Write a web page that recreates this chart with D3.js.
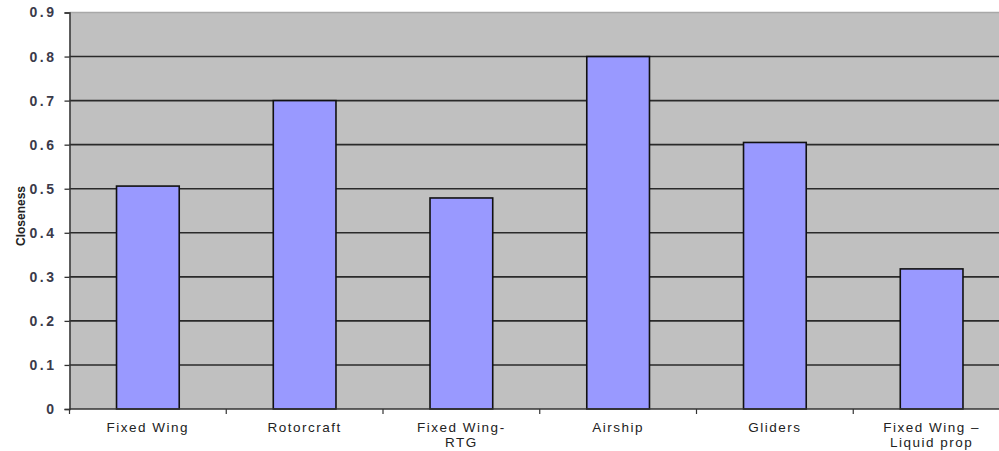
<!DOCTYPE html>
<html><head><meta charset="utf-8">
<script src="https://cdn.jsdelivr.net/npm/d3@7"></script>
<style>body{margin:0;background:#fff;} svg{display:block;}</style>
</head><body>
<svg id="c" width="999" height="451"></svg>
<script>
const categories = [["Fixed Wing"],["Rotorcraft"],["Fixed Wing-","RTG"],["Airship"],["Gliders"],["Fixed Wing \u2013","Liquid prop"]];
const values = [0.506, 0.70, 0.479, 0.80, 0.605, 0.318];
const yTicks = [0,0.1,0.2,0.3,0.4,0.5,0.6,0.7,0.8,0.9];
const yLabel = "Closeness";

(function(){
const svg = d3.select("#c");
const pl = 69.5, pr = 1010, pt = 12.5, pb = 409;
const x = d3.scaleBand().domain(d3.range(categories.length)).range([pl, pr]).paddingInner(0.6).paddingOuter(0.3);
const y = d3.scaleLinear().domain([0, 0.9]).range([pb, pt]);

svg.append("rect").attr("x", pl).attr("y", pt).attr("width", pr-pl).attr("height", pb-pt).attr("fill", "#c0c0c0");
svg.append("line").attr("x1", pl).attr("x2", pr).attr("y1", pt).attr("y2", pt).attr("stroke", "#a8a8a8").attr("stroke-width", 1.5);

svg.append("g").selectAll("line").data(yTicks.filter(d => d > 0 && d < 0.9)).join("line")
  .attr("x1", pl).attr("x2", pr).attr("y1", d => y(d)).attr("y2", d => y(d))
  .attr("stroke", "#2a2a2a").attr("stroke-width", 1.6);

svg.append("g").selectAll("rect").data(values).join("rect")
  .attr("x", (d,i) => x(i)).attr("width", x.bandwidth())
  .attr("y", d => y(d)).attr("height", d => pb - y(d))
  .attr("fill", "#9999ff").attr("stroke", "#111").attr("stroke-width", 1.6);

const ya = svg.append("g").attr("transform", `translate(${pl},0)`)
  .call(d3.axisLeft(y).tickValues(yTicks).tickSize(5).tickPadding(8).tickFormat(d => d === 0 ? "0" : d3.format(".1f")(d)));
ya.select(".domain").attr("stroke", "#333").attr("stroke-width", 1.5);
ya.selectAll(".tick line").attr("stroke", "#333").attr("stroke-width", 1.3);
ya.selectAll("text").attr("font-family", "Liberation Sans, Arial, sans-serif").attr("font-size", 14)
  .attr("font-weight", "bold").attr("letter-spacing", "2.5px").attr("fill", "#3a3a4a");

svg.append("line").attr("x1", pl).attr("x2", pr).attr("y1", pb).attr("y2", pb).attr("stroke", "#333").attr("stroke-width", 1.5);
const bounds = d3.range(categories.length + 1).map(i => pl + i * (pr - pl) / categories.length);
svg.append("g").selectAll("line").data(bounds).join("line")
  .attr("x1", d => d).attr("x2", d => d).attr("y1", pb).attr("y2", pb + 5)
  .attr("stroke", "#333").attr("stroke-width", 1.2);

const lab = svg.append("g").selectAll("text").data(categories).join("text")
  .attr("x", (d,i) => x(i) + x.bandwidth()/2).attr("y", 432)
  .attr("text-anchor", "middle").attr("font-family", "Liberation Sans, Arial, sans-serif")
  .attr("font-size", 13.5).attr("letter-spacing", "1.5px").attr("fill", "#222");
lab.selectAll("tspan").data(d => d).join("tspan")
  .attr("x", function(){ return this.parentNode.getAttribute("x"); })
  .attr("dy", (d,i) => i === 0 ? 0 : 15).text(d => d);

svg.append("text").attr("transform", `translate(25,216) rotate(-90)`)
  .attr("text-anchor", "middle").attr("font-family", "Liberation Sans, Arial, sans-serif")
  .attr("font-size", 12).attr("font-weight", "bold").attr("fill", "#222").text(yLabel);
})();
</script>
</body></html>
